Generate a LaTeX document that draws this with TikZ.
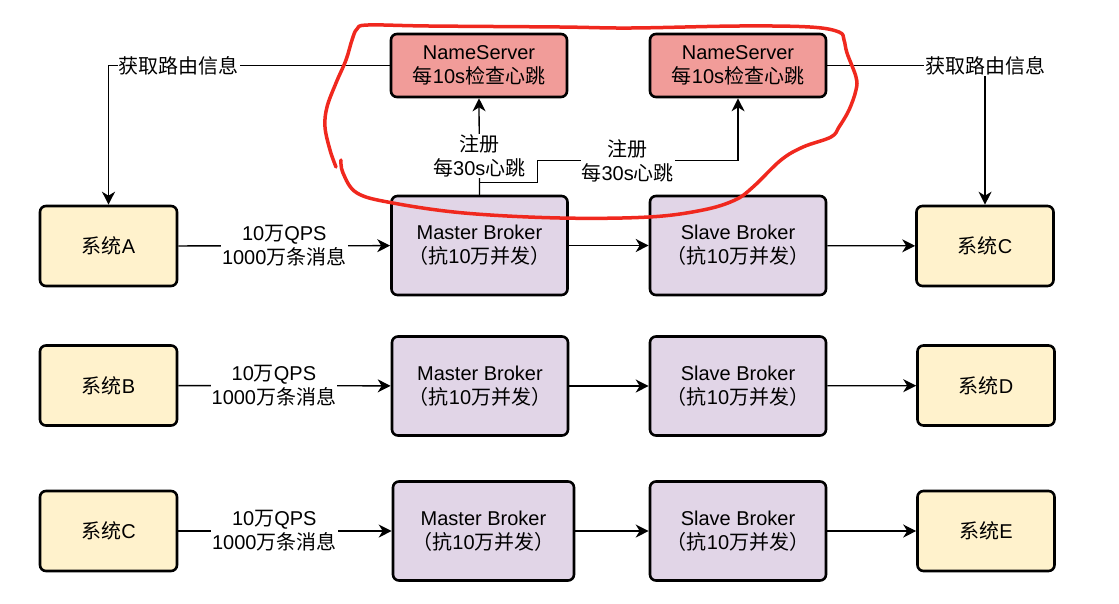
\documentclass[tikz,border=0pt]{standalone}
\usepackage{fontspec}
\setmainfont{Liberation Sans}
\newfontfamily\zhfont{Noto Sans CJK SC}
\newcommand\zh[1]{{\zhfont #1}}
\usetikzlibrary{arrows.meta}
\definecolor{nsred}{HTML}{F19C99}
\definecolor{brokerpurple}{HTML}{E1D5E7}
\definecolor{sysyellow}{HTML}{FFF2CC}
\definecolor{penred}{HTML}{F0281E}

\begin{document}
\begin{tikzpicture}[x=1pt,y=-1pt,
	font=\fontsize{20}{24}\selectfont,
	box/.style={draw, line width=2.6pt, rounded corners=6pt, align=center, inner sep=0pt},
	nsbox/.style={box, fill=nsred, minimum width=176pt, minimum height=63pt},
	brokerbox/.style={box, fill=brokerpurple, minimum width=176pt, minimum height=99pt},
	sysbox/.style={box, fill=sysyellow, minimum width=137pt, minimum height=80pt},
	link/.style={line width=1.3pt, -{Stealth[length=13pt,width=13pt,inset=4pt]}},
	lbl/.style={fill=white, align=center, inner sep=1pt}]
		\useasboundingbox (0,0) rectangle (1119,603);
		% name servers
		\node[nsbox] (ns1) at (479,65.5) {NameServer\\\zh{每}10s\zh{检查心跳}};
		\node[nsbox] (ns2) at (738,65.5) {NameServer\\\zh{每}10s\zh{检查心跳}};
		% row 1
		\node[sysbox] (sysa) at (108.5,246) {\zh{系统}A};
		\node[brokerbox] (m1) at (479.5,245.5) {Master Broker\\\zh{（抗}10\zh{万并发）}};
		\node[brokerbox] (s1) at (738,245.5) {Slave Broker\\\zh{（抗}10\zh{万并发）}};
		\node[sysbox] (sysc) at (985,246) {\zh{系统}C};
		% row 2
		\node[sysbox] (sysb) at (108.5,385.5) {\zh{系统}B};
		\node[brokerbox] (m2) at (480,386) {Master Broker\\\zh{（抗}10\zh{万并发）}};
		\node[brokerbox] (s2) at (738,386) {Slave Broker\\\zh{（抗}10\zh{万并发）}};
		\node[sysbox] (sysd) at (986,385.5) {\zh{系统}D};
		% row 3
		\node[sysbox] (sysc2) at (108.5,531) {\zh{系统}C};
		\node[brokerbox, minimum width=181pt] (m3) at (483.5,531) {Master Broker\\\zh{（抗}10\zh{万并发）}};
		\node[brokerbox] (s3) at (738,531) {Slave Broker\\\zh{（抗}10\zh{万并发）}};
		\node[sysbox] (syse) at (986,531) {\zh{系统}E};
		% traffic
		\draw[link] (sysa) -- node[lbl] {10\zh{万}QPS\\1000\zh{万条消息}} (m1);
		\draw[link] (sysb) -- node[lbl, pos=0.45] {10\zh{万}QPS\\1000\zh{万条消息}} (m2);
		\draw[link] (sysc2) -- node[lbl, pos=0.45] {10\zh{万}QPS\\1000\zh{万条消息}} (m3);
		\draw[link] (m1) -- (s1);
		\draw[link] (m2) -- (s2);
		\draw[link] (m3) -- (s3);
		\draw[link] (s1) -- (sysc);
		\draw[link] (s2) -- (sysd);
		\draw[link] (s3) -- (syse);
		% routing info
		\draw[link] (ns1.west) -| node[lbl, pos=0.375] {\zh{获取路由信息}} (sysa.north);
		\draw[link] (ns2.east) -| node[lbl, pos=0.5] {\zh{获取路由信息}} (sysc.north);
		% register
		\draw[link] (m1.north) -- node[lbl, pos=0.4] {\zh{注册}\\\zh{每}30s\zh{心跳}} (ns1.south);
		\draw[link] (m1.north) -- ++(0,-12) -- ++(58,0) -- ++(0,-22) -| node[lbl, pos=0.225] {\zh{注册}\\\zh{每}30s\zh{心跳}} (ns2.south);
		% red pen mark
		\draw[penred, line width=3.5pt, line cap=round, line join=round] plot[smooth, tension=0.6] coordinates {
			(336,167) (330,150) (325,127) (327,107) (336,83) (346,60) (352,40) (357,29) (368,25) (429,26)
			(560,27) (631,28) (739,26) (810,27) (839,32) (844,40) (847,53) (856,77) (856,90) (849,110)
			(839,127) (831,137) (803,147) (781,160) (753,187) (735,200) (703,210) (649,217) (560,218)
			(464,213) (393,203) (357,193) (343,173) (341,160)};
	\end{tikzpicture}
\end{document}
